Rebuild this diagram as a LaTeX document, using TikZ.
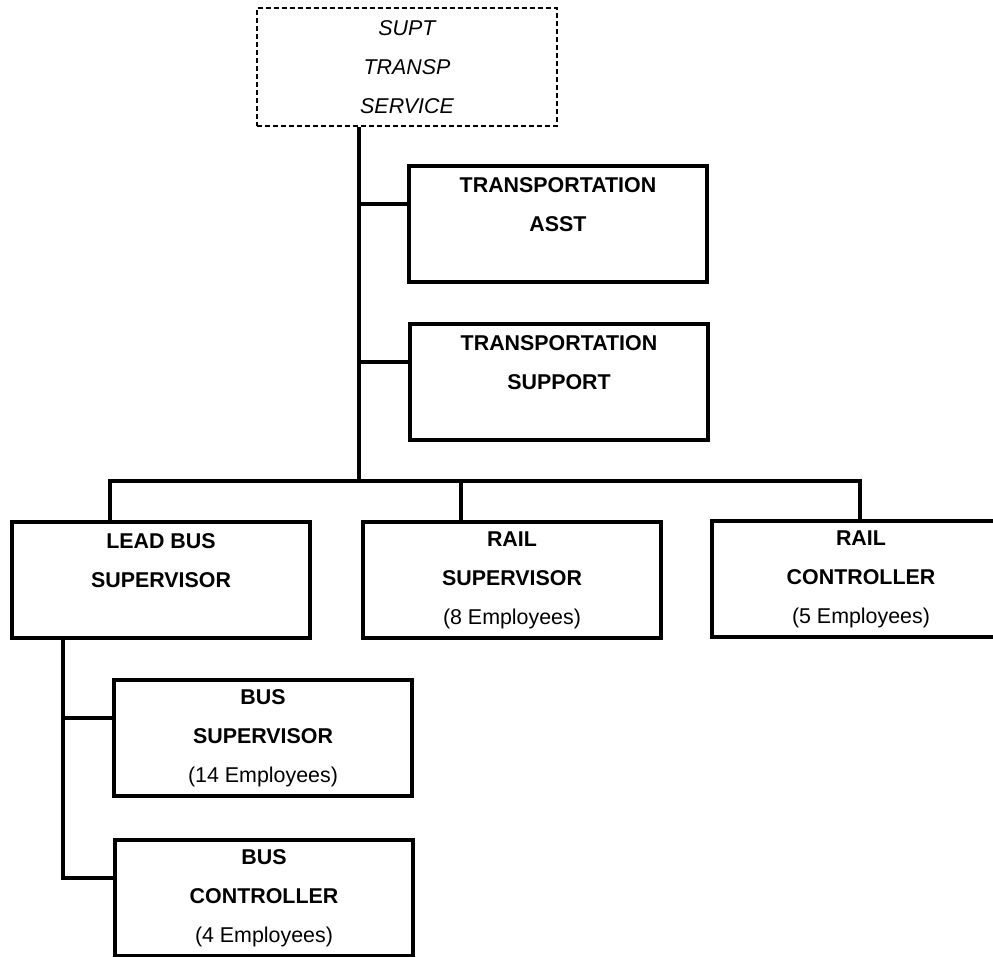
\documentclass[tikz,border=0pt]{standalone}
\usepackage{amssymb,amsmath}
\usepackage{fontspec}
\setmainfont{Liberation Sans}
\usepackage{tikz}

\begin{document}
\begin{tikzpicture}[x=1pt, y=-1pt,
    post/.style={shape=rectangle, draw=black, line width=4pt, minimum width=298pt, minimum height=116pt, align=center, font=\fontsize{21.4}{39}\selectfont\bfseries},
    headpost/.style={post, line width=2pt, dash pattern=on 5pt off 3pt, minimum width=300pt, minimum height=118pt, font=\fontsize{21.4}{39}\selectfont\itshape},
    link/.style={draw=black, line width=4pt}]
    \useasboundingbox (0,0) rectangle (993,956);
    \clip (0,0) rectangle (993,956);
    \node[headpost] at (407,67) (supt) {SUPT\\TRANSP\\SERVICE};
    \node[post] at (558,224) (asst) {TRANSPORTATION\\ASST\\\mbox{}};
    \node[post] at (559,382) (support) {TRANSPORTATION\\SUPPORT\\\mbox{}};
    \node[post] at (161,580) (lead) {LEAD BUS\\SUPERVISOR\\\mbox{}};
    \node[post] at (512,580) (railsup) {RAIL\\SUPERVISOR\\\textmd{(8 Employees)}};
    \node[post] at (861,579) (railctl) {RAIL\\CONTROLLER\\\textmd{(5 Employees)}};
    \node[post] at (263,738) (bussup) {BUS\\SUPERVISOR\\\textmd{(14 Employees)}};
    \node[post] at (264,898) (busctl) {BUS\\CONTROLLER\\\textmd{(4 Employees)}};
    % trunk and bus
    \coordinate (trunk) at (359,481);
    \coordinate (busL) at (110,481);
    \coordinate (busM) at (461,481);
    \coordinate (busR) at (860,481);
    \coordinate (sub) at (63,640);
    \path [link] (trunk |- supt.south) -- (trunk);
    \path [link] (trunk |- supt.south) |- ([yshift=20pt]asst.west);
    \path [link] (trunk |- supt.south) |- ([yshift=20pt]support.west);
    \path [link] (busL |- lead.north) -- (busL) -- (busR) -- (busR |- railctl.north);
    \path [link] (busM) -- (busM |- railsup.north);
    % bus branch
    \path [link] (sub |- lead.south) |- ([yshift=20pt]bussup.west);
    \path [link] (sub |- lead.south) |- ([yshift=20pt]busctl.west);
\end{tikzpicture}
\end{document}
